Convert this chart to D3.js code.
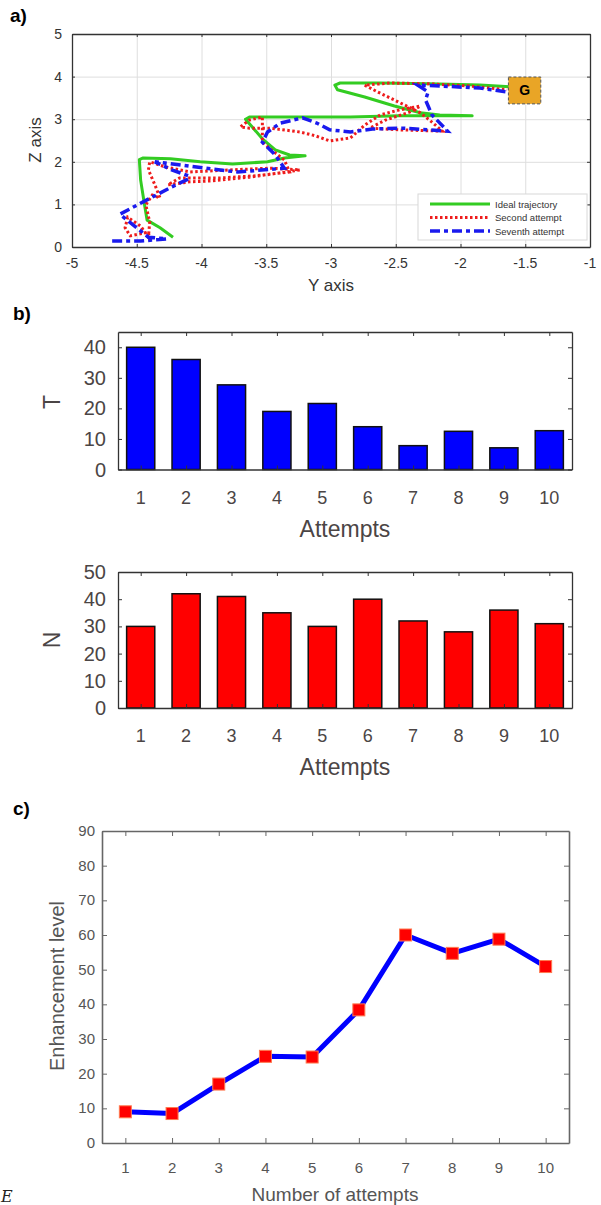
<!DOCTYPE html>
<html>
<head>
<meta charset="utf-8">
<script src="https://cdn.jsdelivr.net/npm/d3@7"></script>
<style>
  body { margin: 0; background: #fff; }
  svg { display: block; font-family: Arial, "Liberation Sans", sans-serif; }
</style>
</head>
<body>
<div id="visContainer"></div>
<script>
// ---- panel a: trajectories, [Y, Z] ----
const idealPath = [
  [-4.22, 0.23], [-4.32, 0.45], [-4.42, 0.63], [-4.44, 0.99], [-4.47, 1.57], [-4.48, 2.05],
  [-4.45, 2.09], [-4.24, 2.07], [-4.01, 2.00], [-3.76, 1.95], [-3.49, 2.00], [-3.36, 2.09],
  [-3.20, 2.14], [-3.32, 2.16], [-3.43, 2.28], [-3.53, 2.54], [-3.66, 3.00], [-3.63, 3.05],
  [-3.24, 3.05], [-2.85, 3.05], [-2.47, 3.08], [-2.16, 3.08], [-1.91, 3.08], [-2.16, 3.10],
  [-2.31, 3.15], [-2.51, 3.31], [-2.74, 3.52], [-2.95, 3.69], [-2.97, 3.80], [-2.93, 3.85],
  [-2.62, 3.85], [-2.24, 3.83], [-1.85, 3.80], [-1.62, 3.76]
];
const secondPath = [
  [-4.40, 0.16], [-4.41, 0.35], [-4.55, 0.26], [-4.59, 0.45], [-4.57, 0.70], [-4.47, 0.49],
  [-4.41, 0.23], [-4.40, 0.59], [-4.43, 0.99], [-4.38, 1.22], [-4.32, 1.15], [-4.36, 1.46],
  [-4.41, 1.81], [-4.40, 2.00], [-4.28, 1.88], [-4.09, 1.76], [-3.78, 1.81], [-3.47, 1.85],
  [-3.24, 1.81], [-3.39, 1.74], [-3.63, 1.64], [-3.93, 1.55], [-4.09, 1.53], [-4.26, 1.46],
  [-4.17, 1.62], [-3.86, 1.62], [-3.59, 1.67], [-3.32, 1.76], [-3.36, 2.04], [-3.46, 2.28],
  [-3.53, 2.46], [-3.53, 2.86], [-3.53, 3.05], [-3.63, 2.98], [-3.70, 2.82], [-3.63, 2.79],
  [-3.47, 2.79], [-3.24, 2.70], [-3.12, 2.61], [-3.01, 2.49], [-2.85, 2.56], [-2.74, 2.86],
  [-2.62, 3.10], [-2.47, 3.22], [-2.31, 3.31], [-2.39, 3.17], [-2.58, 2.98], [-2.70, 2.79],
  [-2.47, 2.75], [-2.14, 2.72], [-2.24, 2.98], [-2.31, 3.15], [-2.51, 3.45], [-2.64, 3.64],
  [-2.74, 3.80], [-2.54, 3.85], [-2.24, 3.83], [-1.93, 3.78], [-1.64, 3.69]
];
const seventhPath = [
  [-4.69, 0.14], [-4.47, 0.14], [-4.27, 0.19], [-4.41, 0.23], [-4.63, 0.77], [-4.45, 1.06],
  [-4.23, 1.41], [-4.10, 1.60], [-4.10, 1.67], [-4.23, 1.81], [-4.36, 2.00], [-4.28, 1.97],
  [-3.97, 1.85], [-3.72, 1.76], [-3.36, 1.85], [-3.43, 2.16], [-3.53, 2.46], [-3.49, 2.70],
  [-3.39, 2.91], [-3.22, 3.03], [-3.11, 2.91], [-3.01, 2.75], [-2.85, 2.70], [-2.68, 2.77],
  [-2.44, 2.79], [-2.10, 2.72], [-2.22, 3.10], [-2.27, 3.45], [-2.25, 3.64], [-2.33, 3.80],
  [-2.16, 3.78], [-1.85, 3.73], [-1.64, 3.64]
];
const goalY = [-1.63, -1.38];
const goalZ = [3.36, 3.99];
const aXTicks = [-5, -4.5, -4, -3.5, -3, -2.5, -2, -1.5, -1];
const aYTicks = [0, 1, 2, 3, 4, 5];
const legendNames = ["Ideal trajectory", "Second attempt", "Seventh attempt"];

// ---- panel b: bars ----
const attempts = [1, 2, 3, 4, 5, 6, 7, 8, 9, 10];
const tValues = [40, 36, 27.7, 19, 21.6, 14, 7.8, 12.5, 7.1, 12.7];
const nValues = [30, 42, 41, 35, 30, 40, 32, 28, 36, 31];
const tTicks = [0, 10, 20, 30, 40];
const nTicks = [0, 10, 20, 30, 40, 50];

// ---- panel c: enhancement ----
const enhancement = [9, 8.5, 17, 25, 24.8, 38.4, 60, 54.7, 58.8, 50.9];
const cYTicks = [0, 10, 20, 30, 40, 50, 60, 70, 80, 90];

function makeVis() {
  const width = 601;
  const height = 1205;

  const svg = d3.create("svg")
    .attr("width", width)
    .attr("height", height);
  document.querySelector("#visContainer").append(svg.node());

  // box with inward ticks on all four sides (matlab look)
  function box(parent, x, y, xt, yt, col, tick) {
    const g = parent.append("g");
    const [x0, x1] = x.range();
    const [y0, y1] = y.range();
    g.append("g").attr("transform", `translate(0,${y0})`)
      .call(d3.axisBottom(x).tickValues(xt).tickSizeInner(-tick).tickSizeOuter(0).tickFormat(""));
    g.append("g").attr("transform", `translate(0,${y1})`)
      .call(d3.axisTop(x).tickValues(xt).tickSizeInner(-tick).tickSizeOuter(0).tickFormat(""));
    g.append("g").attr("transform", `translate(${x0},0)`)
      .call(d3.axisLeft(y).tickValues(yt).tickSizeInner(-tick).tickSizeOuter(0).tickFormat(""));
    g.append("g").attr("transform", `translate(${x1},0)`)
      .call(d3.axisRight(y).tickValues(yt).tickSizeInner(-tick).tickSizeOuter(0).tickFormat(""));
    g.selectAll(".domain, .tick line").attr("stroke", col);
    g.selectAll(".domain").attr("stroke-width", 1.3);
    return g;
  }

  // ================= a) =================
  const ax = d3.scaleLinear().domain([-5, -1]).range([72, 590]);
  const ay = d3.scaleLinear().domain([0, 5]).range([247, 34]);
  const ga = svg.append("g");

  ga.append("text").attr("x", 10).attr("y", 22).attr("font-size", 19)
    .attr("font-weight", "bold").text("a)");

  // grid
  ga.append("g").attr("transform", "translate(0,247)")
    .call(d3.axisBottom(ax).tickValues(aXTicks).tickSize(-213).tickFormat(""))
    .call(g => g.select(".domain").remove())
    .selectAll("line").attr("stroke", "#dedede");
  ga.append("g").attr("transform", "translate(72,0)")
    .call(d3.axisLeft(ay).tickValues(aYTicks).tickSize(-518).tickFormat(""))
    .call(g => g.select(".domain").remove())
    .selectAll("line").attr("stroke", "#dedede");

  const line = d3.line().x(d => ax(d[0])).y(d => ay(d[1]));

  ga.append("path").datum(idealPath).attr("d", line)
    .attr("fill", "none").attr("stroke", "#33cc22").attr("stroke-width", 3)
    .attr("stroke-linejoin", "round");
  ga.append("path").datum(secondPath).attr("d", line)
    .attr("fill", "none").attr("stroke", "#ee1c1c").attr("stroke-width", 3)
    .attr("stroke-dasharray", "2.5,2.5");
  ga.append("path").datum(seventhPath).attr("d", line)
    .attr("fill", "none").attr("stroke", "#1a1aee").attr("stroke-width", 3.5)
    .attr("stroke-dasharray", "10,4,4,4");

  // goal box
  ga.append("rect")
    .attr("x", ax(goalY[0])).attr("y", ay(goalZ[1]))
    .attr("width", ax(goalY[1]) - ax(goalY[0]))
    .attr("height", ay(goalZ[0]) - ay(goalZ[1]))
    .attr("fill", "#e9a526").attr("stroke", "#555").attr("stroke-width", 1)
    .attr("stroke-dasharray", "3,2");
  ga.append("text")
    .attr("x", ax(d3.mean(goalY))).attr("y", ay(d3.mean(goalZ)) + 5)
    .attr("text-anchor", "middle").attr("font-size", 14).attr("font-weight", "bold")
    .text("G");

  box(ga, ax, ay, aXTicks, aYTicks, "#333", 3);

  ga.append("g").selectAll("text").data(aXTicks).join("text")
    .attr("x", d => ax(d)).attr("y", 268)
    .attr("text-anchor", "middle").attr("font-size", 14).attr("fill", "#333")
    .text(d => String(d));
  ga.append("g").selectAll("text").data(aYTicks).join("text")
    .attr("x", 62).attr("y", d => ay(d) + 5)
    .attr("text-anchor", "end").attr("font-size", 14).attr("fill", "#333")
    .text(d => d);
  ga.append("text").attr("x", 331).attr("y", 291).attr("text-anchor", "middle")
    .attr("font-size", 17).attr("fill", "#333").text("Y axis");
  ga.append("text").attr("transform", "translate(41,140) rotate(-90)")
    .attr("text-anchor", "middle").attr("font-size", 17).attr("fill", "#333").text("Z axis");

  // legend
  const lg = ga.append("g");
  lg.append("rect").attr("x", 418).attr("y", 194).attr("width", 169).attr("height", 46)
    .attr("fill", "#fff").attr("stroke", "#d8d8d8");
  const legendStyle = [
    { c: "#33cc22", w: 3, dash: null },
    { c: "#ee1c1c", w: 3, dash: "2.5,2.5" },
    { c: "#1a1aee", w: 3.5, dash: "10,4,4,4" }
  ];
  legendNames.forEach((name, i) => {
    const yy = 204 + i * 13.5;
    lg.append("line").attr("x1", 430).attr("x2", 490).attr("y1", yy).attr("y2", yy)
      .attr("stroke", legendStyle[i].c).attr("stroke-width", legendStyle[i].w)
      .attr("stroke-dasharray", legendStyle[i].dash);
    lg.append("text").attr("x", 495).attr("y", yy + 3.5).attr("font-size", 9.5)
      .attr("fill", "#333").text(name);
  });

  // ================= b) =================
  const bx = d3.scaleLinear().domain([0.5, 10.5]).range([118, 572]);
  const barW = (bx(1) - bx(0)) * 0.62;
  const txtB = "#4b4545";

  svg.append("text").attr("x", 13).attr("y", 320).attr("font-size", 19)
    .attr("font-weight", "bold").text("b)");

  function barPanel(values, yDomain, yRange, ticks, fill, yLabel, labelY) {
    const y = d3.scaleLinear().domain(yDomain).range(yRange);
    const g = svg.append("g");
    g.selectAll("rect").data(values).join("rect")
      .attr("x", (d, i) => bx(attempts[i]) - barW / 2)
      .attr("y", d => y(d))
      .attr("width", barW)
      .attr("height", d => y(0) - y(d))
      .attr("fill", fill).attr("stroke", "#111").attr("stroke-width", 1.5);
    box(g, bx, y, attempts, ticks, "#333", 4);
    g.append("g").selectAll("text").data(ticks).join("text")
      .attr("x", 106).attr("y", d => y(d) + 7)
      .attr("text-anchor", "end").attr("font-size", 20).attr("fill", txtB)
      .text(d => d);
    g.append("g").selectAll("text").data(attempts).join("text")
      .attr("x", d => bx(d)).attr("y", yRange[0] + 34)
      .attr("text-anchor", "middle").attr("font-size", 18).attr("fill", txtB)
      .text(d => d);
    g.append("text").attr("x", bx(5.5)).attr("y", yRange[0] + 67)
      .attr("text-anchor", "middle").attr("font-size", 23).attr("fill", txtB).text("Attempts");
    g.append("text").attr("transform", `translate(60,${labelY}) rotate(-90)`)
      .attr("text-anchor", "middle").attr("font-size", 23).attr("fill", txtB).text(yLabel);
  }
  barPanel(tValues, [0, 45], [469.5, 332], tTicks, "#0000ff", "T", 402);
  barPanel(nValues, [0, 50], [708, 572], nTicks, "#ff0000", "N", 640);

  // ================= c) =================
  const cx = d3.scaleLinear().domain([0.5, 10.5]).range([102, 569]);
  const cy = d3.scaleLinear().domain([0, 90]).range([1143, 831]);
  const gc = svg.append("g");
  const txtC = "#555";

  gc.append("text").attr("x", 13).attr("y", 815).attr("font-size", 19)
    .attr("font-weight", "bold").text("c)");

  box(gc, cx, cy, attempts, cYTicks, "#666", 5)
    .selectAll(".domain").attr("stroke-width", 1.6);

  gc.append("path").datum(enhancement)
    .attr("d", d3.line().x((d, i) => cx(attempts[i])).y(d => cy(d)))
    .attr("fill", "none").attr("stroke", "#0000ff").attr("stroke-width", 5)
    .attr("stroke-linejoin", "round");
  gc.selectAll("rect.mk").data(enhancement).join("rect").attr("class", "mk")
    .attr("x", (d, i) => cx(attempts[i]) - 6).attr("y", d => cy(d) - 6)
    .attr("width", 12).attr("height", 12)
    .attr("fill", "#ff0000").attr("stroke", "#ff7a50").attr("stroke-width", 1);

  gc.append("g").selectAll("text").data(cYTicks).join("text")
    .attr("x", 95).attr("y", d => cy(d) + 5)
    .attr("text-anchor", "end").attr("font-size", 15).attr("fill", txtC)
    .text(d => d);
  gc.append("g").selectAll("text").data(attempts).join("text")
    .attr("x", d => cx(d)).attr("y", 1173)
    .attr("text-anchor", "middle").attr("font-size", 15).attr("fill", txtC)
    .text(d => d);
  gc.append("text").attr("x", 335).attr("y", 1201).attr("text-anchor", "middle")
    .attr("font-size", 19).attr("fill", txtC).text("Number of attempts");
  gc.append("text").attr("transform", "translate(64,986) rotate(-90)")
    .attr("text-anchor", "middle").attr("font-size", 20).attr("fill", txtC)
    .text("Enhancement level");

  // letter left over from the page below
  svg.append("text").attr("x", 1).attr("y", 1202)
    .attr("font-family", "DejaVu Serif, serif").attr("font-style", "italic")
    .attr("font-size", 16).attr("fill", "#222").text("E");
}

makeVis();
</script>
</body>
</html>
